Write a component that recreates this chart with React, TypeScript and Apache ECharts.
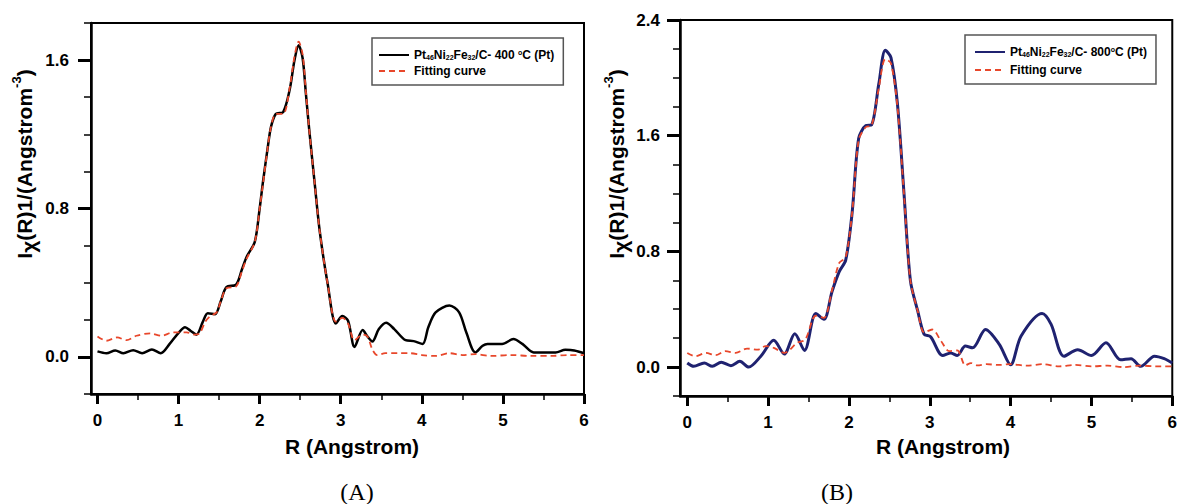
import React, { useEffect, useRef } from "react";
import * as echarts from "echarts";

// ---------- data ----------
const NAME_A = "Pt46Ni22Fe32/C- 400 °C (Pt)";
const NAME_B = "Pt46Ni22Fe32/C- 800 °C (Pt)";
const NAME_FIT = "Fitting curve";

const X_MAJOR = [0, 1, 2, 3, 4, 5, 6];
const X_MINOR = [0.5, 1.5, 2.5, 3.5, 4.5, 5.5];
const YA_MAJOR = [0, 0.8, 1.6];
const YA_MINOR = [-0.2, 0.2, 0.4, 0.6, 1.0, 1.2, 1.4, 1.8];
const YB_MAJOR = [0, 0.8, 1.6, 2.4];
const YB_MINOR = [-0.2, 0.2, 0.4, 0.6, 1.0, 1.2, 1.4, 1.8, 2.0, 2.2];

const A_DATA = [
  [0, 0.03], [0.11, 0.02], [0.22, 0.035], [0.32, 0.02], [0.44, 0.036], [0.55, 0.02],
  [0.67, 0.04], [0.78, 0.02], [0.89, 0.07], [1.0, 0.13], [1.08, 0.16], [1.15, 0.14],
  [1.22, 0.12], [1.3, 0.19], [1.36, 0.235], [1.45, 0.23], [1.52, 0.3], [1.59, 0.376],
  [1.71, 0.39], [1.78, 0.47], [1.84, 0.54], [1.94, 0.62], [2.0, 0.8], [2.04, 0.94],
  [2.1, 1.13], [2.14, 1.24], [2.2, 1.31], [2.29, 1.32], [2.37, 1.44], [2.43, 1.6],
  [2.48, 1.68], [2.53, 1.61], [2.57, 1.42], [2.61, 1.23], [2.68, 0.93], [2.74, 0.68],
  [2.84, 0.39], [2.94, 0.18], [3.02, 0.22], [3.09, 0.195], [3.17, 0.054], [3.27, 0.145],
  [3.33, 0.11], [3.39, 0.083], [3.47, 0.15], [3.56, 0.184], [3.66, 0.15], [3.8, 0.09],
  [3.9, 0.085], [4.01, 0.07], [4.08, 0.16], [4.17, 0.24], [4.34, 0.277], [4.46, 0.24],
  [4.55, 0.13], [4.66, 0.024], [4.75, 0.06], [4.81, 0.07], [4.99, 0.07], [5.13, 0.096],
  [5.24, 0.07], [5.38, 0.024], [5.65, 0.024], [5.77, 0.038], [5.88, 0.035], [6.0, 0.02],
];

const A_FIT = [
  [0, 0.11], [0.11, 0.087], [0.24, 0.105], [0.36, 0.09], [0.48, 0.114], [0.65, 0.127],
  [0.79, 0.114], [0.93, 0.132], [1.1, 0.132], [1.2, 0.12], [1.26, 0.127], [1.33, 0.19],
  [1.39, 0.22], [1.47, 0.24], [1.52, 0.3], [1.59, 0.37], [1.71, 0.38], [1.78, 0.46],
  [1.84, 0.53], [1.94, 0.62], [2.0, 0.8], [2.04, 0.93], [2.1, 1.13], [2.14, 1.24],
  [2.2, 1.31], [2.29, 1.31], [2.37, 1.45], [2.43, 1.62], [2.48, 1.7], [2.53, 1.63],
  [2.57, 1.43], [2.61, 1.23], [2.68, 0.93], [2.74, 0.68], [2.84, 0.39], [2.94, 0.19],
  [3.02, 0.21], [3.09, 0.18], [3.17, 0.09], [3.27, 0.12], [3.33, 0.11], [3.39, 0.04],
  [3.45, 0.01], [3.55, 0.02], [3.7, 0.02], [3.85, 0.02], [4.0, 0.01], [4.17, 0.005],
  [4.34, 0.02], [4.5, 0.01], [4.66, 0.015], [4.85, 0.005], [5.1, 0.01], [5.35, 0.005],
  [5.6, 0.005], [5.8, 0.01], [6.0, 0.01],
];

const B_DATA = [
  [0, 0.028], [0.08, 0.005], [0.21, 0.028], [0.31, 0.005], [0.42, 0.033], [0.54, 0.01],
  [0.65, 0.04], [0.76, 0.0], [0.91, 0.075], [1.07, 0.185], [1.2, 0.09], [1.33, 0.23],
  [1.45, 0.115], [1.59, 0.37], [1.69, 0.33], [1.79, 0.52], [1.88, 0.66], [1.96, 0.74],
  [2.04, 1.07], [2.12, 1.58], [2.21, 1.67], [2.28, 1.675], [2.37, 1.96], [2.45, 2.19],
  [2.52, 2.14], [2.6, 1.82], [2.68, 1.21], [2.76, 0.6], [2.85, 0.39], [2.93, 0.227],
  [3.01, 0.21], [3.16, 0.08], [3.26, 0.098], [3.34, 0.08], [3.44, 0.145], [3.53, 0.133],
  [3.69, 0.26], [3.86, 0.157], [4.0, 0.016], [4.13, 0.215], [4.39, 0.37], [4.5, 0.297],
  [4.66, 0.075], [4.83, 0.12], [5.0, 0.08], [5.18, 0.168], [5.36, 0.05], [5.49, 0.058],
  [5.61, 0.005], [5.78, 0.075], [5.9, 0.058], [6.0, 0.028],
];

const B_FIT = [
  [0, 0.098], [0.1, 0.075], [0.23, 0.098], [0.35, 0.082], [0.47, 0.11], [0.6, 0.098],
  [0.74, 0.128], [0.87, 0.12], [0.97, 0.145], [1.07, 0.133], [1.2, 0.098], [1.36, 0.168],
  [1.46, 0.19], [1.59, 0.355], [1.69, 0.34], [1.79, 0.53], [1.88, 0.72], [1.96, 0.76],
  [2.04, 1.07], [2.12, 1.57], [2.21, 1.66], [2.28, 1.67], [2.37, 1.93], [2.45, 2.13],
  [2.52, 2.1], [2.6, 1.8], [2.68, 1.2], [2.76, 0.6], [2.85, 0.39], [2.93, 0.24],
  [3.03, 0.26], [3.14, 0.18], [3.24, 0.11], [3.34, 0.115], [3.44, 0.012], [3.51, 0.028],
  [3.59, 0.012], [3.7, 0.02], [3.85, 0.015], [4.0, 0.02], [4.2, 0.01], [4.4, 0.02],
  [4.6, 0.005], [4.8, 0.015], [5.0, 0.005], [5.2, 0.01], [5.4, 0.0], [5.6, 0.01],
  [5.8, 0.005], [6.0, 0.005],
];

// ---------- styling ----------
const FONT = "'Liberation Sans', Arial, sans-serif";
const RED = "#e8472b";
const NAVY = "#1f2270";

function xMain(gridIndex: number, min: number) {
  return {
    type: "value", gridIndex, min, max: 6, position: "bottom",
    axisLine: { show: true, onZero: false, lineStyle: { color: "#000", width: 2.5 } },
    axisTick: { show: true, inside: false, length: 10, customValues: X_MAJOR, lineStyle: { color: "#000", width: 3 } },
    axisLabel: { show: true, customValues: X_MAJOR, margin: 18, fontSize: 17, fontWeight: "bold", color: "#000", fontFamily: FONT },
    splitLine: { show: false },
  };
}
function xMinor(gridIndex: number, min: number) {
  return {
    type: "value", gridIndex, min, max: 6, position: "bottom",
    axisLine: { show: false, onZero: false },
    axisTick: { show: true, inside: false, length: 6, customValues: X_MINOR, lineStyle: { color: "#000", width: 1.5 } },
    axisLabel: { show: false },
    splitLine: { show: false },
  };
}
function yMain(gridIndex: number, max: number, major: number[], margin: number) {
  return {
    type: "value", gridIndex, min: -0.2, max, position: "left",
    axisLine: { show: true, onZero: false, lineStyle: { color: "#000", width: 2.5 } },
    axisTick: { show: true, inside: false, length: 13, customValues: major, lineStyle: { color: "#000", width: 3 } },
    axisLabel: { show: true, customValues: major, margin, fontSize: 17, fontWeight: "bold", color: "#000", fontFamily: FONT,
      formatter: (v: number) => v.toFixed(1) },
    splitLine: { show: false },
  };
}
function yMinor(gridIndex: number, max: number, minor: number[]) {
  return {
    type: "value", gridIndex, min: -0.2, max, position: "left",
    axisLine: { show: false, onZero: false },
    axisTick: { show: true, inside: false, length: 7, customValues: minor, lineStyle: { color: "#000", width: 1.5 } },
    axisLabel: { show: false },
    splitLine: { show: false },
  };
}

const legendRich = {
  b: { fontSize: 12, fontWeight: "bold", fontFamily: FONT, color: "#000" },
  s: { fontSize: 7, fontWeight: "bold", fontFamily: FONT, color: "#000", verticalAlign: "bottom", lineHeight: 8 },
  p: { fontSize: 7, fontWeight: "bold", fontFamily: FONT, color: "#000", verticalAlign: "top", lineHeight: 8 },
};
function legendFormatter(name: string) {
  if (name === NAME_A) return "{b|Pt}{s|46}{b|Ni}{s|22}{b|Fe}{s|32}{b|/C- 400 }{p|o}{b|C (Pt)}";
  if (name === NAME_B) return "{b|Pt}{s|46}{b|Ni}{s|22}{b|Fe}{s|32}{b|/C- 800}{p|o}{b|C (Pt)}";
  return "{b|" + name + "}";
}

const yTitleRich = {
  a: { fontSize: 21, fontWeight: "bold", fontFamily: FONT, fill: "#000", color: "#000" },
  c: { fontSize: 21, fontWeight: "bold", fontFamily: FONT, fill: "#000", color: "#000", padding: [8, 0, 0, 0] },
  s: { fontSize: 13, fontWeight: "bold", fontFamily: FONT, fill: "#000", color: "#000", verticalAlign: "top", lineHeight: 12 },
};
const Y_TITLE = "{a|I}{c|χ}{a|(R)1/(Angstrom}{s|-3}{a|)}";

function lineSeries(name: string, data: number[][], gi: number, color: string, dashed: boolean, width: number) {
  return {
    type: "line", name, data, xAxisIndex: gi * 2, yAxisIndex: gi * 2,
    showSymbol: false, symbol: "none", smooth: 0.3,
    lineStyle: { color, width, type: dashed ? [6, 4] : "solid" },
    itemStyle: { color },
    z: dashed ? 3 : 2,
  };
}

const legendBase = {
  orient: "vertical", itemWidth: 30, itemHeight: 14,
  borderColor: "#555", borderWidth: 1.5, backgroundColor: "#fff",
  itemStyle: { opacity: 0 },
  formatter: legendFormatter,
  textStyle: { rich: legendRich, fontSize: 12, fontWeight: "bold", fontFamily: FONT },
  selectedMode: false,
};

export default function App() {
  const ref = useRef<HTMLDivElement>(null);
  useEffect(() => {
    document.body.style.margin = "0";
    const chart = echarts.init(ref.current!, null, { renderer: "svg" });
    chart.setOption({
      animation: false,
      backgroundColor: "#fff",
      grid: [
        { left: 91, top: 23, width: 493, height: 371, show: true, borderColor: "#000", borderWidth: 2 },
        { left: 680, top: 20, width: 499, height: 376, show: true, borderColor: "#000", borderWidth: 2 },
      ],
      xAxis: [xMain(0, -0.08), xMinor(0, -0.08), xMain(1, -0.09), xMinor(1, -0.09)],
      yAxis: [
        yMain(0, 1.8, YA_MAJOR, 22), yMinor(0, 1.8, YA_MINOR),
        yMain(1, 2.4, YB_MAJOR, 20), yMinor(1, 2.4, YB_MINOR),
      ],
      legend: [
        { ...legendBase, data: [NAME_A, NAME_FIT], left: 372, top: 38, padding: [11, 9, 8, 6], itemGap: 4 },
        { ...legendBase, data: [NAME_B, NAME_FIT], left: 965, top: 35, padding: [11, 9, 8, 9], itemGap: 6 },
      ],
      series: [
        lineSeries(NAME_A, A_DATA, 0, "#000", false, 2.5),
        lineSeries(NAME_FIT, A_FIT, 0, RED, true, 1.8),
        lineSeries(NAME_B, B_DATA, 1, NAVY, false, 3),
        lineSeries(NAME_FIT, B_FIT, 1, RED, true, 1.8),
      ],
      graphic: [
        { type: "text", x: 24, y: 164, rotation: Math.PI / 2,
          style: { text: Y_TITLE, rich: yTitleRich, align: "center", verticalAlign: "middle", fill: "#000" } },
        { type: "text", x: 616, y: 164, rotation: Math.PI / 2,
          style: { text: Y_TITLE, rich: yTitleRich, align: "center", verticalAlign: "middle", fill: "#000" } },
        { type: "text", x: 352, y: 446,
          style: { text: "R (Angstrom)", fontSize: 21, fontWeight: "bold", fontFamily: FONT, fill: "#000", align: "center", verticalAlign: "middle" } },
        { type: "text", x: 943, y: 446,
          style: { text: "R (Angstrom)", fontSize: 21, fontWeight: "bold", fontFamily: FONT, fill: "#000", align: "center", verticalAlign: "middle" } },
        { type: "text", x: 357, y: 492,
          style: { text: "(A)", fontSize: 24, fontFamily: "'Liberation Serif', 'Times New Roman', serif", fill: "#000", align: "center", verticalAlign: "middle" } },
        { type: "text", x: 837, y: 492,
          style: { text: "(B)", fontSize: 24, fontFamily: "'Liberation Serif', 'Times New Roman', serif", fill: "#000", align: "center", verticalAlign: "middle" } },
      ],
    });
    return () => chart.dispose();
  }, []);
  return <div ref={ref} style={{ width: 1180, height: 504 }} />;
}
